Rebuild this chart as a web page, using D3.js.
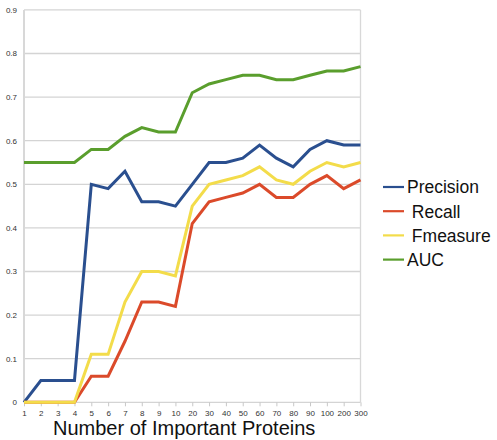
<!DOCTYPE html>
<html>
<head>
<meta charset="utf-8">
<script src="https://cdn.jsdelivr.net/npm/d3@7"></script>
<style>
  body { margin: 0; background: #fff; }
  svg { display: block; }
</style>
</head>
<body>
<div id="vis"></div>
<script>
var categories = ["1","2","3","4","5","6","7","8","9","10","20","30","40","50","60","70","80","90","100","200","300"];
var precision = [0, 0.05, 0.05, 0.05, 0.50, 0.49, 0.53, 0.46, 0.46, 0.45, 0.50, 0.55, 0.55, 0.56, 0.59, 0.56, 0.54, 0.58, 0.60, 0.59, 0.59];
var recall    = [0, 0, 0, 0, 0.06, 0.06, 0.14, 0.23, 0.23, 0.22, 0.41, 0.46, 0.47, 0.48, 0.50, 0.47, 0.47, 0.50, 0.52, 0.49, 0.51];
var fmeasure  = [0, 0, 0, 0, 0.11, 0.11, 0.23, 0.30, 0.30, 0.29, 0.45, 0.50, 0.51, 0.52, 0.54, 0.51, 0.50, 0.53, 0.55, 0.54, 0.55];
var auc       = [0.55, 0.55, 0.55, 0.55, 0.58, 0.58, 0.61, 0.63, 0.62, 0.62, 0.71, 0.73, 0.74, 0.75, 0.75, 0.74, 0.74, 0.75, 0.76, 0.76, 0.77];
var seriesNames = ["Precision", " Recall", " Fmeasure", "AUC"];
var yTicks = [0, 0.1, 0.2, 0.3, 0.4, 0.5, 0.6, 0.7, 0.8, 0.9];

var colors = ["#2a4f8f", "#db4a2a", "#f3dc4a", "#5a9e2d"];
var series = [precision, recall, fmeasure, auc];

var width = 497, height = 440;
var plotLeft = 24, plotRight = 360.5, plotTop = 9.9, plotBottom = 402.3;

var svg = d3.select("#vis").append("svg")
    .attr("width", width)
    .attr("height", height)
    .style("font-family", "'Liberation Sans', Arial, sans-serif");

var x = d3.scalePoint().domain(categories).range([plotLeft, plotRight]);
var y = d3.scaleLinear().domain([0, 0.9]).range([plotBottom, plotTop]);

// grid lines
svg.append("g").selectAll("line")
    .data(yTicks)
    .enter().append("line")
    .attr("x1", plotLeft).attr("x2", plotRight)
    .attr("y1", d => y(d)).attr("y2", d => y(d))
    .style("stroke", "#d4d4d4")
    .style("stroke-width", 1.3);

// left + right frame lines
svg.append("line")
    .attr("x1", plotLeft).attr("x2", plotLeft).attr("y1", plotTop).attr("y2", plotBottom)
    .style("stroke", "#d8d8d8").style("stroke-width", 2);
svg.append("line")
    .attr("x1", plotRight).attr("x2", plotRight).attr("y1", plotTop).attr("y2", plotBottom)
    .style("stroke", "#d8d8d8").style("stroke-width", 1.3);

// y axis labels
svg.append("g").selectAll("text")
    .data(yTicks)
    .enter().append("text")
    .attr("x", 17)
    .attr("y", d => y(d))
    .attr("dy", "0.35em")
    .attr("text-anchor", "end")
    .style("font-size", "8px")
    .style("fill", "#333")
    .text(d => d === 0 ? "0" : d3.format(".1f")(d));

// x axis
var xAxis = svg.append("g")
    .attr("transform", "translate(0," + plotBottom + ")")
    .call(d3.axisBottom(x).tickSize(4).tickPadding(4));
xAxis.select(".domain").remove();
xAxis.selectAll(".tick line").style("stroke", "#c8c8c8");
xAxis.selectAll(".tick text")
    .style("font-size", "8px")
    .style("fill", "#333")
    .style("font-family", "'Liberation Sans', Arial, sans-serif");

// lines
var line = d3.line()
    .x((d, i) => x(categories[i]))
    .y(d => y(d));

svg.append("g").selectAll("path")
    .data(series)
    .enter().append("path")
    .attr("d", line)
    .style("fill", "none")
    .style("stroke", (d, i) => colors[i])
    .style("stroke-width", 3)
    .style("stroke-linejoin", "miter");

// legend
var legend = svg.append("g").selectAll("g")
    .data(seriesNames)
    .enter().append("g")
    .attr("transform", (d, i) => "translate(383," + (187 + i * 24.2) + ")");

legend.append("line")
    .attr("x1", 0).attr("x2", 21)
    .style("stroke", (d, i) => colors[i])
    .style("stroke-width", 2.2);

legend.append("text")
    .attr("x", 24)
    .attr("dy", "0.36em")
    .style("font-size", "17.5px")
    .style("fill", "#111")
    .style("white-space", "pre")
    .attr("xml:space", "preserve")
    .text(d => d);

// x axis title
svg.append("text")
    .attr("x", 53)
    .attr("y", 435)
    .style("font-size", "20px")
    .style("fill", "#111")
    .text("Number of Important Proteins");
</script>
</body>
</html>
